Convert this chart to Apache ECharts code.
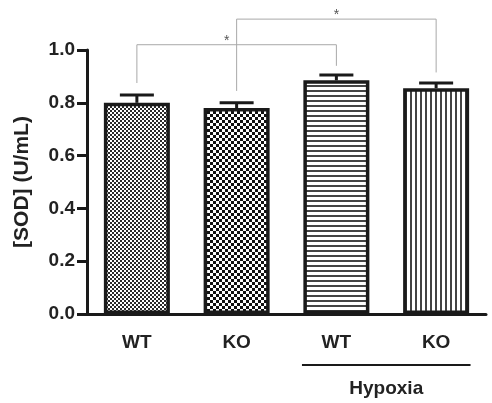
<!DOCTYPE html>
<html>
<head>
<meta charset="utf-8">
<script src="https://cdn.jsdelivr.net/npm/echarts@6/dist/echarts.min.js"></script>
<style>html,body{margin:0;padding:0;background:#fff;}#chart{width:492px;height:403px;}</style>
</head>
<body>
<div id="chart"></div>
<script>
var categories = ['WT', 'KO', 'WT', 'KO'];
var means = [0.80, 0.78, 0.885, 0.855];
var errorTops = [0.83, 0.80, 0.905, 0.875];
var yTicks = [0.0, 0.2, 0.4, 0.6, 0.8, 1.0];
// brackets: [fromIndex, toIndex, leftLegEnd, rightLegEnd, topValue]
var brackets = [[0, 2, 0.875, 0.94, 1.02], [1, 3, 0.845, 0.915, 1.117]];
var bracketLabels = ['*', '*'];
var groupLabel = 'Hypoxia';
var groupRange = [2, 3];

function makePattern(kind) {
  var c = document.createElement('canvas');
  var ctx;
  if (kind === 'fine') {
    c.width = 4; c.height = 4; ctx = c.getContext('2d');
    ctx.fillStyle = '#fff'; ctx.fillRect(0, 0, 4, 4);
    ctx.fillStyle = '#2a2a2a'; ctx.fillRect(0, 0, 2, 2); ctx.fillRect(2, 2, 2, 2);
  } else if (kind === 'coarse') {
    c.width = 6; c.height = 6; ctx = c.getContext('2d');
    ctx.fillStyle = '#fff'; ctx.fillRect(0, 0, 6, 6);
    ctx.fillStyle = '#111'; ctx.fillRect(0, 0, 3, 3); ctx.fillRect(3, 3, 3, 3);
  } else if (kind === 'hlines') {
    c.width = 5; c.height = 5; ctx = c.getContext('2d');
    ctx.fillStyle = '#fff'; ctx.fillRect(0, 0, 5, 5);
    ctx.fillStyle = '#444'; ctx.fillRect(0, 0, 5, 2);
  } else {
    c.width = 5; c.height = 5; ctx = c.getContext('2d');
    ctx.fillStyle = '#fff'; ctx.fillRect(0, 0, 5, 5);
    ctx.fillStyle = '#444'; ctx.fillRect(0, 0, 2, 5);
  }
  return { image: c, repeat: 'repeat' };
}
var patterns = [makePattern('fine'), makePattern('coarse'), makePattern('hlines'), makePattern('vlines')];

var FONT = '"Liberation Sans", Arial, sans-serif';
var chart = echarts.init(document.getElementById('chart'), null, { renderer: 'canvas' });

var barData = means.map(function (v, i) {
  return { value: v, itemStyle: { color: patterns[i] } };
});

var option = {
  backgroundColor: '#fff',
  animation: false,
  grid: { left: 87, right: 6, top: 50, bottom: 89, containLabel: false },
  xAxis: {
    type: 'category',
    data: categories,
    axisLine: { lineStyle: { color: '#1a1a1a', width: 3 } },
    axisTick: { alignWithLabel: true, length: 10, lineStyle: { color: '#1a1a1a', width: 3 } },
    axisLabel: { color: '#222', fontFamily: FONT, fontWeight: 'bold', fontSize: 19, margin: 19 }
  },
  yAxis: {
    type: 'value',
    min: 0, max: 1, interval: 0.2,
    name: '[SOD] (U/mL)',
    nameLocation: 'middle',
    nameGap: 54,
    nameTextStyle: { color: '#222', fontFamily: FONT, fontWeight: 'bold', fontSize: 21 },
    splitLine: { show: false },
    axisLine: { show: true, lineStyle: { color: '#1a1a1a', width: 3 } },
    axisTick: { show: true, length: 10, lineStyle: { color: '#1a1a1a', width: 3 } },
    axisLabel: {
      color: '#222', fontFamily: FONT, fontWeight: 'bold', fontSize: 19, margin: 12,
      formatter: function (v) { return v.toFixed(1); }
    }
  },
  series: [
    {
      type: 'bar',
      data: barData,
      barWidth: 66,
      itemStyle: { borderColor: '#1a1a1a', borderWidth: 3.5 },
      z: 2
    },
    {
      type: 'custom',
      z: 3,
      data: means.map(function (m, i) { return [i, m, errorTops[i]]; }),
      renderItem: function (params, api) {
        var i = api.value(0);
        var p0 = api.coord([i, api.value(1)]);
        var p1 = api.coord([i, api.value(2)]);
        var half = 17;
        return {
          type: 'group',
          children: [
            { type: 'line', shape: { x1: p0[0], y1: p0[1], x2: p1[0], y2: p1[1] }, style: { stroke: '#1a1a1a', lineWidth: 3 } },
            { type: 'line', shape: { x1: p1[0] - half, y1: p1[1], x2: p1[0] + half, y2: p1[1] }, style: { stroke: '#1a1a1a', lineWidth: 3 } }
          ]
        };
      }
    },
    {
      type: 'custom',
      z: 4,
      clip: false,
      data: brackets,
      renderItem: function (params, api) {
        var a = api.value(0), b = api.value(1);
        var pl = api.coord([a, api.value(2)]);
        var pr = api.coord([b, api.value(3)]);
        var top = api.coord([a, api.value(4)])[1];
        return {
          type: 'group',
          children: [
            { type: 'polyline', shape: { points: [[pl[0], pl[1]], [pl[0], top], [pr[0], top], [pr[0], pr[1]]] }, style: { stroke: '#a8a8a8', lineWidth: 1, fill: null } },
            { type: 'text', style: { text: bracketLabels[params.dataIndex], x: (pl[0] + pr[0]) / 2 - (params.dataIndex === 0 ? 10 : 0), y: top - 4, align: 'center', verticalAlign: 'middle', fill: '#555', font: '14px ' + FONT } }
          ]
        };
      }
    },
    {
      type: 'custom',
      z: 4,
      clip: false,
      data: [groupRange],
      renderItem: function (params, api) {
        var a = api.coord([api.value(0), 0]);
        var b = api.coord([api.value(1), 0]);
        var bw = api.size([1, 0])[0] * 0.69 / 2;
        var y = a[1] + 51;
        return {
          type: 'group',
          children: [
            { type: 'line', shape: { x1: a[0] - bw, y1: y, x2: b[0] + bw, y2: y }, style: { stroke: '#1a1a1a', lineWidth: 2 } },
            { type: 'text', style: { text: groupLabel, x: (a[0] + b[0]) / 2, y: y + 24, align: 'center', verticalAlign: 'middle', fill: '#222', font: 'bold 19px ' + FONT } }
          ]
        };
      }
    }
  ]
};
chart.setOption(option);
</script>
</body>
</html>
